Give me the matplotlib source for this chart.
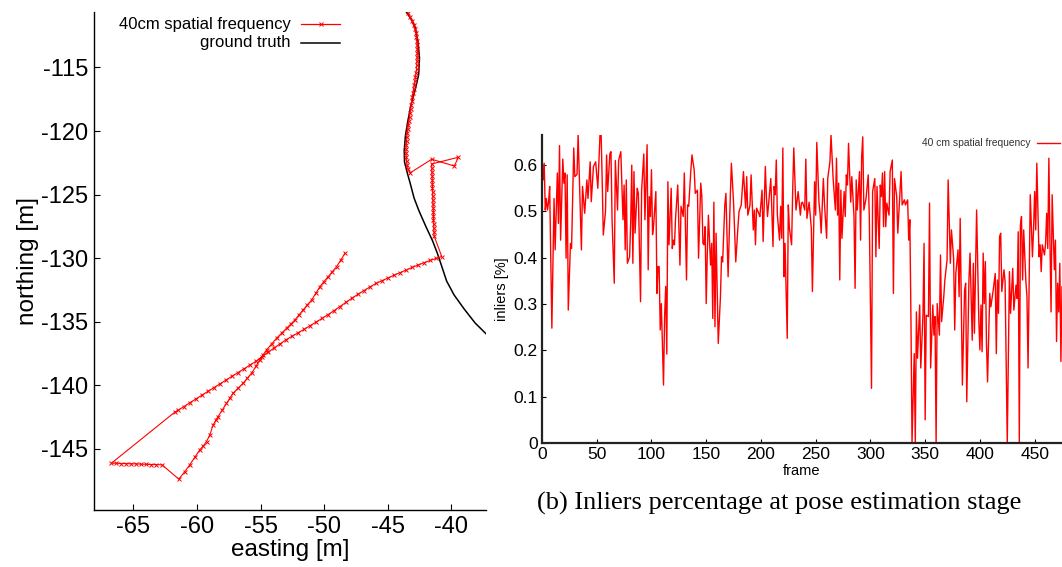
import matplotlib
matplotlib.use("Agg")
import matplotlib.pyplot as plt
from matplotlib.lines import Line2D

plt.rcParams['font.family'] = ['Liberation Sans', 'DejaVu Sans']
plt.rcParams['axes.unicode_minus'] = False

# ---------------- trajectory (left panel) ----------------
gt_east = [-43.56, -43.11, -42.85, -42.61, -42.50, -42.57, -42.85, -43.17, -43.40,
           -43.60, -43.70, -43.68, -43.48, -43.24, -42.93, -42.54, -42.02, -41.47,
           -41.08, -40.76, -40.37, -39.78, -38.99, -38.13, -37.26]
gt_north = [-110.61, -111.27, -111.82, -113.07, -114.25, -115.59, -116.77, -117.95,
            -119.13, -120.31, -121.49, -122.43, -123.22, -124.08, -125.26, -126.28,
            -127.46, -128.64, -129.66, -130.61, -131.79, -132.89, -133.99, -135.09,
            -135.95]

est_east = [
    # northbound stretch
    -43.38, -43.25, -43.10, -42.97, -42.85, -42.79, -42.74, -42.71, -42.69, -42.67,
    -42.67, -42.68, -42.69, -42.71, -42.73, -42.77, -42.82, -42.86, -42.91, -42.97,
    -43.02, -43.07, -43.12, -43.16, -43.20, -43.24, -43.28, -43.32, -43.37, -43.42,
    -43.46, -43.49, -43.52, -43.54, -43.56, -43.56, -43.55, -43.52, -43.47, -43.39,
    -43.25,
    # jump
    -41.54, -39.76, -39.44, -41.54,
    # drifting column
    -41.53, -41.52, -41.51, -41.50, -41.49, -41.48, -41.47, -41.46, -41.45, -41.44,
    -41.43, -41.42, -41.41, -41.40, -41.39, -41.38, -41.37, -41.35,
    # long south-west leg
    -40.75, -41.20, -41.67, -42.14, -42.61, -43.09, -43.56, -44.03, -44.50, -44.98,
    -45.45, -45.92, -46.39, -46.87, -47.34, -47.81, -48.28, -48.76, -49.23, -49.70,
    -50.17, -50.65, -51.12, -51.59, -52.06, -52.54, -53.01, -53.48, -53.95, -54.43,
    -54.90, -55.37, -55.84, -56.31, -56.79, -57.26, -57.73, -58.20, -58.68, -59.15,
    -59.62, -60.09, -60.57, -61.04, -61.51, -61.75,
    # westward row
    -66.73, -66.34, -65.94, -65.55, -65.16, -64.76, -64.37, -63.98, -63.58, -63.19,
    -62.75, -61.43,
    # north-east leg
    -60.96, -60.57, -60.17, -59.78, -59.50, -59.25, -58.99, -58.73, -58.52, -58.34,
    -58.01, -57.68, -57.42, -57.16, -56.76, -56.37, -56.04, -55.71, -55.37, -55.06,
    -54.80, -54.53, -54.13, -53.74, -53.35, -52.95, -52.61, -52.30, -51.98, -51.65,
    -51.31, -50.98, -50.65, -50.33, -50.02, -49.68, -49.35, -49.02, -48.68, -48.36,
]
est_north = [
    -110.72, -111.03, -111.34, -111.66, -111.97, -112.28, -112.60, -112.91, -113.23, -113.54,
    -113.86, -114.17, -114.49, -114.80, -115.12, -115.43, -115.75, -116.06, -116.37, -116.69,
    -117.00, -117.32, -117.63, -117.95, -118.26, -118.58, -118.89, -119.21, -119.52, -119.84,
    -120.15, -120.46, -120.78, -121.09, -121.41, -121.72, -122.04, -122.35, -122.67, -122.98,
    -123.30,
    -122.22, -122.75, -122.06, -122.59,
    -122.90, -123.22, -123.53, -123.85, -124.16, -124.47, -124.79, -125.10, -125.42, -125.73,
    -126.05, -126.36, -126.68, -126.99, -127.31, -127.62, -127.93, -128.25,
    -129.87, -130.02, -130.18, -130.35, -130.54, -130.73, -130.94, -131.13, -131.34, -131.55,
    -131.77, -131.98, -132.26, -132.54, -132.84, -133.14, -133.47, -133.80, -134.13, -134.44,
    -134.74, -135.03, -135.32, -135.60, -135.87, -136.15, -136.42, -136.74, -137.07, -137.41,
    -137.76, -138.11, -138.41, -138.70, -139.00, -139.29, -139.59, -139.88, -140.18, -140.48,
    -140.77, -141.07, -141.37, -141.67, -141.97, -142.11,
    -146.12, -146.12, -146.15, -146.15, -146.17, -146.17, -146.20, -146.20, -146.23, -146.23,
    -146.25, -147.37,
    -146.78, -146.25, -145.66, -145.07, -144.76, -144.42, -143.89, -143.11, -142.75, -142.45,
    -141.93, -141.40, -141.01, -140.61, -140.22, -139.83, -139.43, -139.04, -138.51, -138.00,
    -137.60, -137.21, -136.74, -136.29, -135.90, -135.50, -135.17, -134.85, -134.46, -134.06,
    -133.67, -133.28, -132.75, -132.23, -131.84, -131.45, -131.05, -130.66, -130.13, -129.61,
]

east_ticks = [-65, -60, -55, -50, -45, -40]
north_ticks = [-145, -140, -135, -130, -125, -120, -115]

# ---------------- inlier ratio (right panel) ----------------
frame_idx = [
    0, 1, 2, 3, 4, 5, 6, 7, 9, 11, 12, 14, 15, 16, 17, 19, 20, 21, 22, 23, 24, 26, 27, 29, 30,
    32, 33, 35, 36, 37, 39, 41, 42, 44, 45, 47, 49, 51, 53, 54, 55, 56, 58, 59, 60, 62, 63, 64,
    66, 67, 69, 70, 72,
    74, 75, 76, 77, 78, 80, 81, 82, 83, 84, 85, 87, 88, 90, 91, 93, 94, 96, 97, 98, 99, 100,
    101, 102, 104, 105, 106, 107, 108, 109, 111, 112, 113, 114, 115, 116, 118, 119, 120, 121,
    122, 124, 126, 127, 129, 130, 132, 133, 134, 136, 137, 139, 140, 142, 143, 145, 146, 147,
    148, 149, 150,
    151, 152, 154, 155, 156, 157, 158, 159, 161, 163, 164, 165, 167, 168, 170, 172, 173, 175,
    177, 179, 180, 182, 184, 186, 187, 188, 190, 191, 193, 194, 195, 196, 198, 199, 201, 202,
    204, 205, 206, 208, 209, 211, 212, 213, 214, 215, 217, 218, 219, 220, 221, 222, 224, 225,
    226, 228, 229, 230,
    232, 234, 236, 237, 238, 240, 241, 242, 244, 246, 247, 249, 250, 251, 253, 254, 255, 257,
    258, 260, 261, 263, 264, 266, 268, 269, 270, 271, 272, 273, 274, 276, 277, 278, 279, 280,
    282, 283, 285, 286, 287, 288, 290, 291, 292, 293, 294, 296, 298, 299, 301, 302, 304, 305,
    306,
    308, 309, 310, 311, 312, 313, 314, 315, 317, 318, 320, 321, 322, 324, 325, 327, 328, 329,
    331, 332, 334, 335, 336, 337, 338, 340, 341, 342, 343, 345, 346, 348, 349, 350, 351, 353,
    354, 355, 357, 358, 359, 360, 361, 363, 364, 365, 367, 368, 370, 371, 373, 374, 376, 377,
    378, 380, 381, 382, 384,
    386, 387, 388, 390, 391, 393, 394, 395, 396, 397, 399, 400, 401, 402, 403, 404, 405, 406,
    407, 409, 410, 412, 414, 415, 416, 417, 418, 419, 420, 422, 423, 425, 427, 428, 430, 431,
    433, 434, 435, 436, 437, 438, 439, 440, 442, 443, 444, 446, 448, 449, 450, 451, 452, 454,
    455, 456, 457, 459, 460, 461, 462, 463, 464, 465, 466, 468, 469, 470, 471, 472, 473, 474,
    475, 476,
]
inliers = [
    .615, .568, .604, .503, .528, .503, .520, .554, .248, .528, .417, .583, .474, .642, .438,
    .613, .561, .583, .399, .579, .287, .431, .420, .637, .575, .580, .667, .496, .417, .554,
    .496, .568, .528, .607, .521, .597, .607, .550, .667, .667, .564, .449, .500, .622, .543,
    .625, .629, .482, .345, .610, .503, .610, .629,
    .482, .557, .417, .568, .388, .402, .475, .600, .388, .586, .453, .550, .539, .305, .546,
    .624, .482, .644, .374, .532, .489, .590, .450, .471, .543, .323, .381, .381, .244, .301,
    .125, .273, .338, .192, .564, .428, .550, .420, .438, .428, .485, .557, .384, .511, .489,
    .583, .352, .514, .511, .590, .622, .590, .539, .546, .399, .561, .532, .431, .428, .467,
    .301,
    .410, .492, .384, .431, .269, .520, .251, .453, .215, .316, .402, .391, .514, .539, .359,
    .532, .604, .518, .391, .467, .500, .514, .586, .507, .575, .492, .514, .579, .460, .503,
    .428, .507, .496, .489, .546, .435, .597, .532, .489, .543, .571, .424, .554, .536, .611,
    .492, .438, .511, .442, .637, .359, .431, .226, .514, .464, .428, .546, .637,
    .503, .543, .492, .518, .520, .503, .613, .485, .520, .464, .327, .564, .492, .649, .520,
    .496, .453, .571, .518, .442, .571, .607, .665, .568, .503, .615, .492, .561, .352, .546,
    .442, .543, .489, .579, .557, .647, .520, .575, .489, .334, .568, .503, .586, .438, .618,
    .661, .503, .528, .579, .485, .118, .543, .571, .402, .554,
    .420, .557, .532, .583, .467, .586, .467, .518, .492, .586, .611, .323, .571, .532, .453,
    .543, .586, .514, .525, .514, .525, .438, .482, .273, .000, .193, .000, .283, .183, .298,
    .162, .276, .431, .050, .276, .273, .518, .162, .298, .233, .273, .000, .301, .233, .406,
    .262, .316, .352, .395, .568, .388, .460, .399, .244, .366, .417, .316, .485, .125,
    .330, .345, .089, .352, .410, .222, .388, .237, .366, .503, .266, .201, .298, .197, .410,
    .301, .392, .215, .132, .323, .294, .327, .366, .193, .352, .280, .446, .453, .327, .374,
    .349, .000, .370, .280, .377, .287, .341, .312, .456, .000, .470, .489, .352, .460, .349,
    .316, .162, .536, .402, .460, .543, .460, .604, .402, .428, .370, .428, .406, .431, .496,
    .420, .615, .435, .283, .536, .374, .438, .219, .345, .283, .388, .176, .338, .215,
]

frame_ticks = [0, 50, 100, 150, 200, 250, 300, 350, 400, 450]
inlier_ticks = [0, 0.1, 0.2, 0.3, 0.4, 0.5, 0.6]
inlier_tick_labels = ["0", "0.1", "0.2", "0.3", "0.4", "0.5", "0.6"]

W, H = 1062, 567
fig = plt.figure(figsize=(W / 100, H / 100), dpi=100)

RED = "#ff0000"

# ---- left panel ----
axl = fig.add_axes([94 / W, 1 - 510 / H, (486 - 94) / W, (510 - 12) / H])
axl.plot(gt_east, gt_north, color="black", lw=1.1, zorder=2)
axl.plot(est_east, est_north, color=RED, lw=0.8, marker="x", ms=3.2, mew=0.7, zorder=3)
axl.set_xlim(-68.1, -37.27)
axl.set_ylim(-149.8, -110.64)
axl.set_xticks(east_ticks)
axl.set_yticks(north_ticks)
for s in ("top", "right"):
    axl.spines[s].set_visible(False)
for s in ("left", "bottom"):
    axl.spines[s].set_linewidth(1.0)
axl.tick_params(direction="in", length=4, width=0.8, labelsize=17, pad=4)
axl.set_xlabel("easting [m]", fontsize=17.5, labelpad=1)
axl.set_ylabel("northing [m]", fontsize=17.5, labelpad=2)

# legend of the left panel
fig.text(291 / W, 1 - 24 / H, "40cm spatial frequency", ha="right", va="center", fontsize=12)
fig.text(291 / W, 1 - 43 / H, "ground truth", ha="right", va="center", fontsize=12)
fig.add_artist(Line2D([301 / W, 340 / W], [1 - 24 / H, 1 - 24 / H], transform=fig.transFigure,
                      color=RED, lw=0.9))
fig.add_artist(Line2D([320.5 / W], [1 - 24 / H], transform=fig.transFigure, color=RED,
                      marker="x", ms=3.2, mew=0.7, lw=0))
fig.add_artist(Line2D([301 / W, 340 / W], [1 - 43 / H, 1 - 43 / H], transform=fig.transFigure,
                      color="black", lw=1.1))

# ---- right panel ----
axr = fig.add_axes([542 / W, 1 - 443 / H, (W - 542) / W, (443 - 135) / H])
axr.plot(frame_idx, inliers, color=RED, lw=1.0)
axr.set_xlim(0, 475)
axr.set_ylim(0, 0.665)
axr.set_xticks(frame_ticks)
axr.set_yticks(inlier_ticks)
axr.set_yticklabels(inlier_tick_labels)
for s in ("top", "right"):
    axr.spines[s].set_visible(False)
for s in ("left", "bottom"):
    axr.spines[s].set_linewidth(1.6)
    axr.spines[s].set_color("#222222")
axr.tick_params(direction="in", length=3, width=0.8, labelsize=12.5, pad=3)
axr.set_xlabel("frame", fontsize=10.5, labelpad=1)
axr.set_ylabel("inliers [%]", fontsize=10.5, labelpad=3)

fig.text(1030 / W, 1 - 143 / H, "40 cm spatial frequency", ha="right", va="center",
         fontsize=7.4, color="#333333")
fig.add_artist(Line2D([1037 / W, 1060 / W], [1 - 143 / H, 1 - 143 / H],
                      transform=fig.transFigure, color=RED, lw=1.0))

fig.text(779.5 / W, 1 - 510 / H, "(b) Inliers percentage at pose estimation stage",
         ha="center", va="baseline", fontsize=19, family=["Liberation Serif", "DejaVu Serif"])

fig.savefig("out.png", dpi=100)
